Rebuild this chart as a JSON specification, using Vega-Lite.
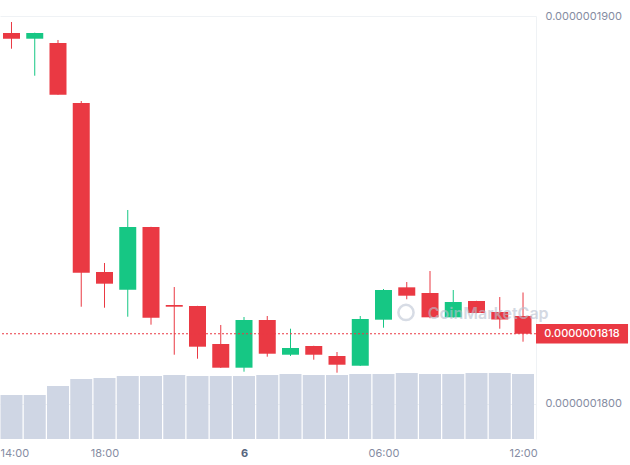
{
  "$schema": "https://vega.github.io/schema/vega-lite/v6.json",
  "width": 536,
  "height": 423,
  "autosize": {"type": "none"},
  "padding": {"top": 16, "left": 0, "right": 94, "bottom": 26},
  "background": "#ffffff",
  "config": {
    "view": {"stroke": null},
    "font": "Inter",
    "axis": {"labelFont": "Inter", "labelFontSize": 11, "labelColor": "#858ca2"}
  },
  "datasets": {
    "candles": [
      {"t": "2022-09-05T14:00:00Z", "open": 1.89561e-7, "high": 1.89845e-7, "low": 1.89156e-7, "close": 1.89414e-7, "volume": 44000},
      {"t": "2022-09-05T15:00:00Z", "open": 1.89414e-7, "high": 1.89570e-7, "low": 1.88459e-7, "close": 1.89561e-7, "volume": 44000},
      {"t": "2022-09-05T16:00:00Z", "open": 1.89303e-7, "high": 1.89381e-7, "low": 1.87969e-7, "close": 1.87969e-7, "volume": 53000},
      {"t": "2022-09-05T17:00:00Z", "open": 1.87755e-7, "high": 1.87806e-7, "low": 1.82498e-7, "close": 1.83375e-7, "volume": 60000},
      {"t": "2022-09-05T18:00:00Z", "open": 1.83394e-7, "high": 1.83626e-7, "low": 1.82472e-7, "close": 1.83092e-7, "volume": 61000},
      {"t": "2022-09-05T19:00:00Z", "open": 1.82937e-7, "high": 1.84994e-7, "low": 1.82240e-7, "close": 1.84555e-7, "volume": 63000},
      {"t": "2022-09-05T20:00:00Z", "open": 1.84555e-7, "high": 1.84560e-7, "low": 1.82034e-7, "close": 1.82214e-7, "volume": 63000},
      {"t": "2022-09-05T21:00:00Z", "open": 1.82542e-7, "high": 1.83006e-7, "low": 1.81259e-7, "close": 1.82498e-7, "volume": 64000},
      {"t": "2022-09-05T22:00:00Z", "open": 1.82516e-7, "high": 1.82520e-7, "low": 1.81156e-7, "close": 1.81466e-7, "volume": 63000},
      {"t": "2022-09-05T23:00:00Z", "open": 1.81535e-7, "high": 1.82026e-7, "low": 1.80920e-7, "close": 1.80924e-7, "volume": 63000},
      {"t": "2022-09-06T00:00:00Z", "open": 1.80924e-7, "high": 1.82232e-7, "low": 1.80821e-7, "close": 1.82155e-7, "volume": 63000},
      {"t": "2022-09-06T01:00:00Z", "open": 1.82155e-7, "high": 1.82258e-7, "low": 1.81208e-7, "close": 1.81285e-7, "volume": 64000},
      {"t": "2022-09-06T02:00:00Z", "open": 1.81259e-7, "high": 1.81930e-7, "low": 1.81226e-7, "close": 1.81432e-7, "volume": 65000},
      {"t": "2022-09-06T03:00:00Z", "open": 1.81484e-7, "high": 1.81490e-7, "low": 1.81130e-7, "close": 1.81259e-7, "volume": 64000},
      {"t": "2022-09-06T04:00:00Z", "open": 1.81226e-7, "high": 1.81329e-7, "low": 1.80795e-7, "close": 1.81001e-7, "volume": 64000},
      {"t": "2022-09-06T05:00:00Z", "open": 1.80975e-7, "high": 1.82258e-7, "low": 1.80970e-7, "close": 1.82181e-7, "volume": 65000},
      {"t": "2022-09-06T06:00:00Z", "open": 1.82163e-7, "high": 1.82955e-7, "low": 1.81956e-7, "close": 1.82929e-7, "volume": 65000},
      {"t": "2022-09-06T07:00:00Z", "open": 1.82998e-7, "high": 1.83135e-7, "low": 1.82690e-7, "close": 1.82782e-7, "volume": 66000},
      {"t": "2022-09-06T08:00:00Z", "open": 1.82852e-7, "high": 1.83419e-7, "low": 1.82200e-7, "close": 1.82224e-7, "volume": 65000},
      {"t": "2022-09-06T09:00:00Z", "open": 1.82224e-7, "high": 1.82929e-7, "low": 1.82220e-7, "close": 1.82619e-7, "volume": 65000},
      {"t": "2022-09-06T10:00:00Z", "open": 1.82645e-7, "high": 1.82650e-7, "low": 1.82330e-7, "close": 1.82335e-7, "volume": 66000},
      {"t": "2022-09-06T11:00:00Z", "open": 1.82361e-7, "high": 1.82748e-7, "low": 1.81930e-7, "close": 1.82168e-7, "volume": 66000},
      {"t": "2022-09-06T12:00:00Z", "open": 1.82258e-7, "high": 1.82865e-7, "low": 1.81595e-7, "close": 1.81800e-7, "volume": 65000}
    ],
    "last": [{"price": 1.818e-7, "label": "0.0000001818"}],
    "mark": [{"t": "2022-09-06T10:30:00Z", "y": 1.8231e-7, "name": "CoinMarketCap"}],
    "logo": [{"t": "2022-09-06T06:58:00Z", "y": 1.8235e-7}]
  },
  "layer": [
    {
      "data": {"name": "candles"},
      "mark": {"type": "bar", "size": 22, "color": "#cfd6e4"},
      "encoding": {
        "x": {
          "field": "t",
          "type": "temporal",
          "scale": {"type": "utc", "padding": 0, "domain": [1662384620000, 1662467610000]},
          "axis": {
            "title": null,
            "grid": false,
            "domain": false,
            "ticks": false,
            "tickSize": 0,
            "labelPadding": 8,
            "labelFlush": 12,
            "labelFlushOffset": 11.5,
            "labelOverlap": false,
            "values": [1662386400000, 1662400800000, 1662422400000, 1662444000000, 1662465600000],
            "labelExpr": "utchours(datum.value) == 0 ? utcFormat(datum.value, '%-d') : utcFormat(datum.value, '%H:%M')",
            "labelFontWeight": {"condition": {"test": "utchours(datum.value) == 0", "value": "bold"}, "value": "normal"},
            "labelColor": {"condition": {"test": "utchours(datum.value) == 0", "value": "#58667e"}, "value": "#858ca2"}
          }
        },
        "y": {"field": "volume", "type": "quantitative", "scale": {"domain": [0, 423000]}, "axis": null}
      }
    },
    {
      "layer": [
        {
          "data": {"name": "candles"},
          "mark": {"type": "rule", "strokeWidth": 1},
          "encoding": {
            "x": {"field": "t", "type": "temporal", "scale": {"type": "utc", "padding": 0, "domain": [1662384620000, 1662467610000]}},
            "y": {
              "field": "low",
              "type": "quantitative",
              "scale": {"domain": [1.79084e-7, 1.9e-7], "zero": false, "nice": false, "padding": 0},
              "axis": {
                "orient": "right",
                "title": null,
                "values": [1.8e-7, 1.9e-7],
                "format": ".10f",
                "grid": true,
                "gridColor": "#eff2f5",
                "domain": true,
                "domainColor": "#eff2f5",
                "ticks": false,
                "labelPadding": 9,
                "labelFontSize": 11
              }
            },
            "y2": {"field": "high"},
            "color": {"condition": {"test": "datum.close >= datum.open", "value": "#16c784"}, "value": "#ea3943"}
          }
        },
        {
          "data": {"name": "candles"},
          "mark": {"type": "bar", "size": 17},
          "encoding": {
            "x": {"field": "t", "type": "temporal", "scale": {"type": "utc", "padding": 0, "domain": [1662384620000, 1662467610000]}},
            "y": {"field": "open", "type": "quantitative"},
            "y2": {"field": "close"},
            "color": {"condition": {"test": "datum.close >= datum.open", "value": "#16c784"}, "value": "#ea3943"}
          }
        },
        {
          "data": {"name": "last"},
          "mark": {"type": "rule", "color": "#ea3943", "strokeDash": [2, 2], "strokeWidth": 1},
          "encoding": {
            "y": {"field": "price", "type": "quantitative"}
          }
        },
        {
          "data": {"name": "logo"},
          "mark": {"type": "point", "shape": "circle", "filled": false, "size": 230, "strokeWidth": 2.5, "color": "#b8c0d0", "opacity": 0.55},
          "encoding": {
            "x": {"field": "t", "type": "temporal", "scale": {"type": "utc", "padding": 0, "domain": [1662384620000, 1662467610000]}},
            "y": {"field": "y", "type": "quantitative"}
          }
        },
        {
          "data": {"name": "mark"},
          "mark": {"type": "text", "fontSize": 16, "fontWeight": 600, "color": "#b8c0d0", "opacity": 0.6, "align": "center", "baseline": "middle"},
          "encoding": {
            "x": {"field": "t", "type": "temporal", "scale": {"type": "utc", "padding": 0, "domain": [1662384620000, 1662467610000]}},
            "y": {"field": "y", "type": "quantitative"},
            "text": {"field": "name"}
          }
        },
        {
          "data": {"name": "last"},
          "mark": {"type": "rect", "color": "#ea3943"},
          "encoding": {
            "x": {"datum": 1662467610000, "type": "temporal", "scale": {"type": "utc", "padding": 0, "domain": [1662384620000, 1662467610000]}},
            "x2": {"datum": 1662481860000},
            "y": {"datum": 1.8155e-7, "type": "quantitative"},
            "y2": {"datum": 1.8205e-7}
          }
        },
        {
          "data": {"name": "last"},
          "mark": {"type": "text", "color": "#ffffff", "fontSize": 11, "fontWeight": 500, "align": "center", "baseline": "middle"},
          "encoding": {
            "x": {"datum": 1662474720000, "type": "temporal", "scale": {"type": "utc", "padding": 0, "domain": [1662384620000, 1662467610000]}},
            "y": {"field": "price", "type": "quantitative"},
            "text": {"field": "label"}
          }
        }
      ]
    }
  ],
  "resolve": {"scale": {"y": "independent"}}
}
